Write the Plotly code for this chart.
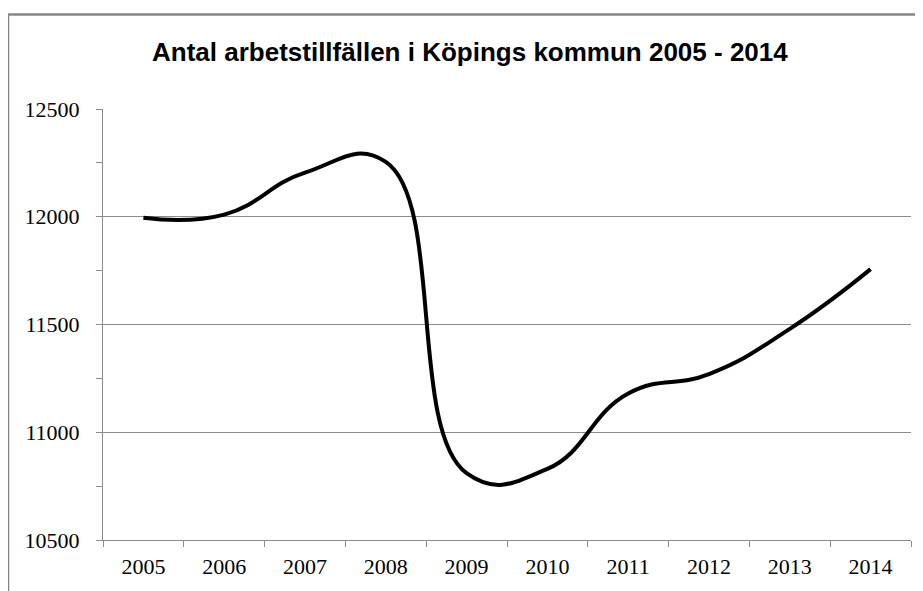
import plotly.graph_objects as go

years = ["2005", "2006", "2007", "2008", "2009", "2010", "2011", "2012", "2013", "2014"]
jobs = [11995, 12010, 12205, 12255, 10810, 10830, 11180, 11270, 11480, 11757]
y_ticks = [10500, 11000, 11500, 12000, 12500]
title_text = "Antal arbetstillfällen i Köpings kommun 2005 - 2014"

grid = "#8c8c8c"

fig = go.Figure()
fig.add_trace(go.Scatter(
    x=years, y=jobs, mode="lines",
    line=dict(color="black", width=4, shape="spline", smoothing=1.3),
    hoverinfo="x+y", showlegend=False,
))

# page body has an 8px margin, so the figure is offset by 8px
fig.update_layout(
    width=915, height=583,
    margin=dict(l=95, r=12, t=101, b=46),
    paper_bgcolor="white", plot_bgcolor="white",
    annotations=[dict(
        text=title_text, xref="paper", yref="paper",
        x=(470 - 103) / 808, y=1, yshift=57, xanchor="center", yanchor="middle",
        showarrow=False,
        font=dict(family="Liberation Sans, Arial", size=26, color="black", weight="bold"),
    )],
    shapes=[dict(type="rect", xref="paper", yref="paper",
                 x0=-95 / 808, x1=1.5, y0=-0.5, y1=1 + 95.5 / 436,
                 line=dict(color="#868686", width=2.5), layer="below")],
)

fig.update_xaxes(
    type="category", range=[-0.5, 9.5],
    tickson="boundaries", ticks="outside", ticklen=6, tickcolor=grid,
    showline=True, linecolor=grid, linewidth=1,
    showgrid=False, zeroline=False,
    ticklabelstandoff=7,
    tickfont=dict(family="Liberation Serif, Times New Roman", size=22, color="black"),
)
fig.update_yaxes(
    range=[10500, 12500], tickvals=y_ticks, ticktext=[str(v) for v in y_ticks],
    ticks="outside", ticklen=6, tickcolor=grid,
    minor=dict(dtick=250, tick0=10500, ticks="outside", ticklen=6, tickcolor=grid, showgrid=False),
    showline=True, linecolor=grid, linewidth=1,
    showgrid=True, gridcolor=grid, gridwidth=1, zeroline=False,
    ticklabelstandoff=12,
    tickfont=dict(family="Liberation Serif, Times New Roman", size=22, color="black"),
)

fig.write_html("out.html")
